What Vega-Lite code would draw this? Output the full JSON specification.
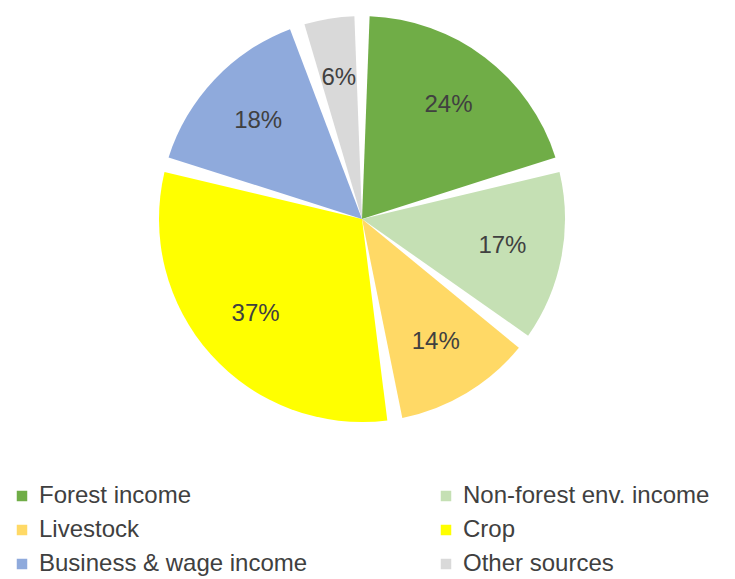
{
  "$schema": "https://vega.github.io/schema/vega-lite/v6.json",
  "width": 724,
  "height": 438,
  "padding": {"top": 0, "left": 0, "right": 11, "bottom": 141},
  "autosize": {"type": "none"},
  "background": "white",
  "data": {"values": [
    {"source": "Forest income", "pct": 24, "label": "24%", "k": 1},
    {"source": "Non-forest env. income", "pct": 17, "label": "17%", "k": 2},
    {"source": "Livestock", "pct": 14, "label": "14%", "k": 3},
    {"source": "Crop", "pct": 37, "label": "37%", "k": 4},
    {"source": "Business & wage income", "pct": 18, "label": "18%", "k": 5},
    {"source": "Other sources", "pct": 6, "label": "6%", "k": 6}
  ]},
  "encoding": {
    "theta": {"field": "pct", "type": "quantitative", "stack": true},
    "order": {"field": "k", "type": "quantitative"}
  },
  "layer": [
    {
      "mark": {"type": "arc", "outerRadius": 203, "padAngle": 0.075},
      "encoding": {
        "color": {
          "field": "source", "type": "nominal",
          "scale": {
            "domain": ["Forest income", "Livestock", "Business & wage income", "Non-forest env. income", "Crop", "Other sources"],
            "range": ["#70AD47", "#FFD966", "#8FAADC", "#C5E0B4", "#FFFF00", "#D9D9D9"]
          },
          "legend": {
            "title": null,
            "orient": "none",
            "legendX": 10,
            "legendY": 484,
            "columns": 2,
            "columnPadding": 126,
            "rowPadding": 10,
            "symbolType": "square",
            "symbolSize": 110,
            "symbolStrokeWidth": 0,
            "labelFont": "Liberation Sans",
            "labelFontSize": 24,
            "labelColor": "#404040",
            "labelLimit": 400,
            "labelOffset": 5
          }
        }
      }
    },
    {
      "mark": {"type": "text", "radius": 143, "font": "Liberation Sans", "fontSize": 24, "color": "#404040"},
      "encoding": {
        "text": {"field": "label", "type": "nominal"}
      }
    }
  ]
}
